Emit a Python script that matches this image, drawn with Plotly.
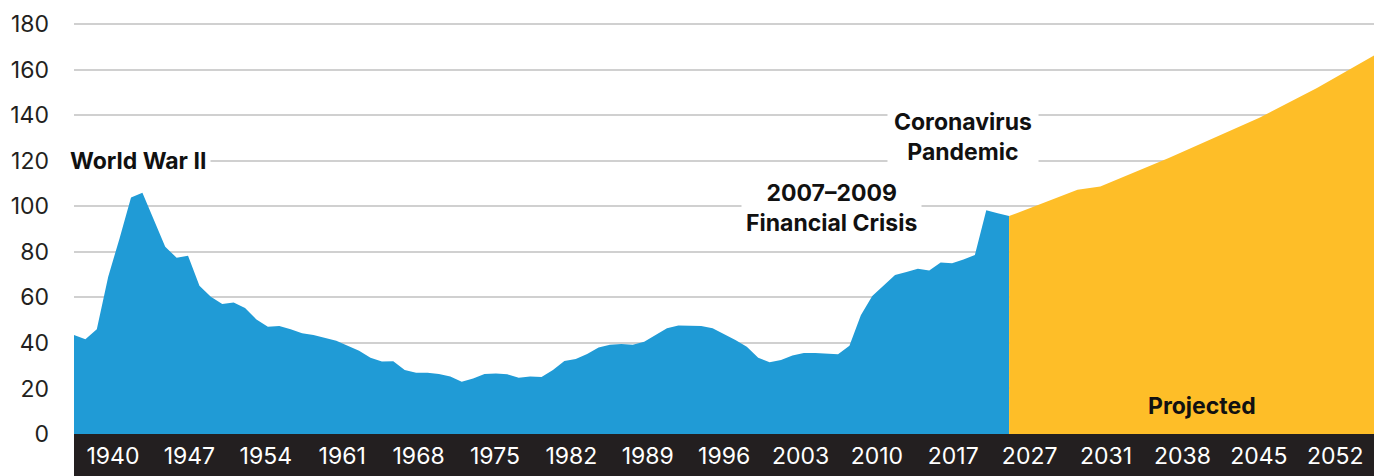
import numpy as np
import plotly.graph_objects as go

# ---------------- data ----------------
HIST_YEARS = list(range(1940, 2023))
HIST_VALUES = [
    43.5, 41.6, 46.0, 69.1, 86.0, 103.9, 106.0, 94.0, 82.2, 77.4,   # 1940-1949
    78.3, 65.1, 60.3, 57.1, 57.8, 55.3, 50.3, 47.1, 47.4, 46.0,     # 1950-1959
    44.2, 43.5, 42.3, 41.0, 38.8, 36.6, 33.5, 31.8, 31.9, 28.1,     # 1960-1969
    26.9, 26.9, 26.3, 25.2, 23.0, 24.4, 26.3, 26.6, 26.2, 24.7,     # 1970-1979
    25.2, 25.0, 28.1, 32.1, 32.9, 35.1, 38.0, 39.2, 39.5, 39.2,     # 1980-1989
    40.5, 43.6, 46.4, 47.6, 47.6, 47.4, 46.4, 43.9, 41.3, 38.3,     # 1990-1999
    33.5, 31.5, 32.5, 34.5, 35.6, 35.6, 35.3, 35.0, 38.8, 52.2,     # 2000-2009
    60.6, 65.4, 69.8, 71.2, 72.6, 71.8, 75.3, 75.0, 76.6, 78.6,     # 2010-2019
    98.3, 97.0, 95.7,                                               # 2020-2022
]

PROJ_YEARS = [2022, 2028, 2030, 2036, 2044, 2049, 2054]
PROJ_VALUES = [95.7, 107.3, 108.7, 121.2, 139.0, 152.0, 166.2]

X_TICK_LABELS = ["1940", "1947", "1954", "1961", "1968", "1975", "1982", "1989",
                 "1996", "2003", "2010", "2017", "2027", "2031", "2038", "2045", "2052"]
Y_TICKS = [0, 20, 40, 60, 80, 100, 120, 140, 160, 180]

# ---------------- style ----------------
BLUE = "#209BD6"
YELLOW = "#FEBE28"
BAND = "#231F20"
TEXT = "#111111"
FONT = "Inter"

X_RANGE = [1940, 2054]
# tick labels are evenly spread along the band
tick_pos = np.linspace(1943.42, 2050.6, len(X_TICK_LABELS))

fig = go.Figure()
fig.add_trace(go.Scatter(
    x=HIST_YEARS, y=HIST_VALUES, mode="lines", fill="tozeroy",
    line=dict(width=0, color=BLUE), fillcolor=BLUE, hoverinfo="skip",
))
fig.add_trace(go.Scatter(
    x=PROJ_YEARS, y=PROJ_VALUES, mode="lines", fill="tozeroy",
    line=dict(width=0, color=YELLOW), fillcolor=YELLOW, hoverinfo="skip",
))

fig.add_shape(type="rect", xref="paper", yref="paper", x0=0, x1=1.01, y0=-0.2, y1=0,
              fillcolor=BAND, line=dict(width=0), layer="below")

ann_font = dict(family=FONT, size=23, color=TEXT, weight="bold")
fig.add_annotation(x=1952.0, y=120, xref="x", yref="y", xanchor="right", yanchor="middle",
                   text="World War II", showarrow=False, font=ann_font,
                   bgcolor="white", borderpad=4)
fig.add_annotation(x=2006.4, y=99.3, xref="x", yref="y", xanchor="center", yanchor="middle",
                   text="2007–2009<br>Financial Crisis", showarrow=False, font=ann_font,
                   align="center", bgcolor="white", borderpad=4)
fig.add_annotation(x=2018.0, y=130.4, xref="x", yref="y", xanchor="center", yanchor="middle",
                   text="Coronavirus<br>Pandemic", showarrow=False, font=ann_font,
                   align="center", bgcolor="white", borderpad=6)
fig.add_annotation(x=2038.9, y=12.5, xref="x", yref="y", xanchor="center", yanchor="middle",
                   text="Projected", showarrow=False, font=ann_font)

fig.update_layout(
    width=1374, height=476,
    margin=dict(l=74, r=0, t=23, b=42, pad=0),
    paper_bgcolor="white", plot_bgcolor="white",
    showlegend=False,
    font=dict(family=FONT, size=23, color=BAND),
)
fig.update_xaxes(
    range=X_RANGE, showgrid=False, zeroline=False, showline=False, ticks="",
    tickvals=tick_pos, ticktext=X_TICK_LABELS,
    tickfont=dict(family=FONT, size=23, color="white"),
    ticklabelstandoff=6, fixedrange=True,
)
fig.update_yaxes(
    range=[0, 180.5], tickvals=Y_TICKS, showgrid=True, gridcolor="#D0D0D0", gridwidth=1.5,
    zeroline=False, showline=False, ticks="",
    tickfont=dict(family=FONT, size=23, color=BAND),
    ticklabelstandoff=24, fixedrange=True,
)

fig.write_html("out.html")
